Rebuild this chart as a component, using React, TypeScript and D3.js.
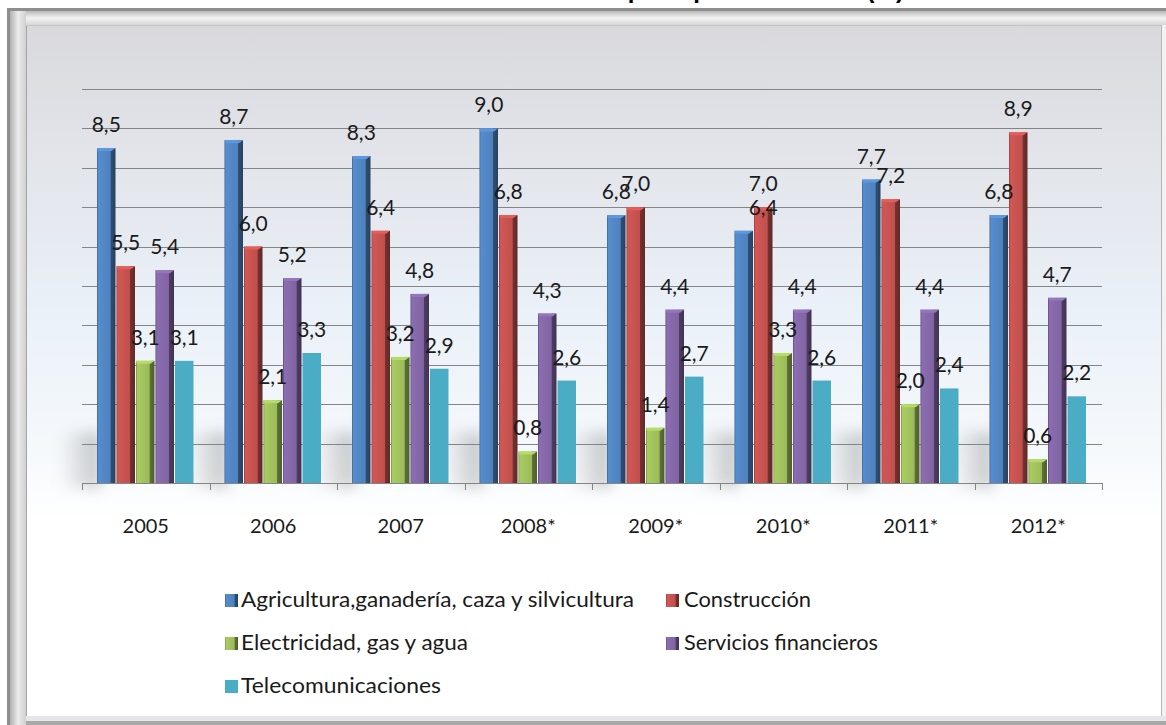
import React from "react";
import * as d3 from "d3";

const categories = ["2005", "2006", "2007", "2008*", "2009*", "2010*", "2011*", "2012*"];
const seriesNames = [
  "Agricultura,ganadería, caza y silvicultura",
  "Construcción",
  "Electricidad, gas y agua",
  "Servicios financieros",
  "Telecomunicaciones",
];
const agricultura = [8.5, 8.7, 8.3, 9.0, 6.8, 6.4, 7.7, 6.8];
const construccion = [5.5, 6.0, 6.4, 6.8, 7.0, 7.0, 7.2, 8.9];
const electricidad = [3.1, 2.1, 3.2, 0.8, 1.4, 3.3, 2.0, 0.6];
const servicios = [5.4, 5.2, 4.8, 4.3, 4.4, 4.4, 4.4, 4.7];
const telecom = [3.1, 3.3, 2.9, 2.6, 2.7, 2.6, 2.4, 2.2];
const yTickValues = [1, 2, 3, 4, 5, 6, 7, 8, 9, 10];
const titleText = "Tasa de crecimiento de los principales sectores (%)";

const seriesValues = [agricultura, construccion, electricidad, servicios, telecom];
const seriesColors = ["#4f81bd", "#c0504d", "#9bbb59", "#8064a2", "#4bacc6"];
const flatSeries = [false, false, false, false, true];

const W = 1166;
const H = 725;
const FONT = "Lato, 'Open Sans', sans-serif";

export default function App() {
  const x0 = d3.scaleBand<string>().domain(categories).range([82, 1102]).padding(0);
  const x1 = d3
    .scaleBand<string>()
    .domain(seriesNames)
    .range([0, x0.bandwidth()])
    .paddingInner(0)
    .paddingOuter(0.77);
  const y = d3.scaleLinear().domain([0, 10]).range([483, 89]);
  const fmt = (v: number) => d3.format(".1f")(v).replace(".", ",");
  const step = x1.step();
  const bw = step - 1;

  // label placement quirk seen in the reference (2010 agricultura label drawn over next bar)
  const labelShift = (s: number, i: number) => (s === 0 && i === 5 ? step : 0);

  const legendCols = [225, 666];
  const legendRows = [607, 650, 693];
  const legendTextLen = [393, 127, 227, 194, 200];

  return (
    <svg
      width={W}
      height={H}
      style={{ position: "absolute", left: 0, top: 0, background: "#fff" }}
      fontFamily={FONT}
    >
      <defs>
        <linearGradient id="panel" x1="0" y1="0" x2="0" y2="1">
          <stop offset="0" stopColor="#d9d9dd" />
          <stop offset="0.18" stopColor="#e2e4e9" />
          <stop offset="0.42" stopColor="#eaf1f8" />
          <stop offset="0.62" stopColor="#f6f9fc" />
          <stop offset="0.72" stopColor="#ffffff" />
          <stop offset="1" stopColor="#ffffff" />
        </linearGradient>
        <linearGradient id="bevelTop" x1="0" y1="0" x2="0" y2="1">
          <stop offset="0" stopColor="#b8b8b8" />
          <stop offset="0.5" stopColor="#f4f4f4" />
          <stop offset="1" stopColor="#d6d6d6" />
        </linearGradient>
        <linearGradient id="bevelLeft" x1="0" y1="0" x2="1" y2="0">
          <stop offset="0" stopColor="#b0b0b0" />
          <stop offset="0.5" stopColor="#ececec" />
          <stop offset="1" stopColor="#d0d0d0" />
        </linearGradient>
        <linearGradient id="floorShadow" x1="0" y1="0" x2="1" y2="0">
          <stop offset="0" stopColor="#000" stopOpacity="0" />
          <stop offset="1" stopColor="#000" stopOpacity="0.22" />
        </linearGradient>
        <filter id="blur" x="-50%" y="-50%" width="200%" height="200%">
          <feGaussianBlur stdDeviation="7" />
        </filter>
        {seriesColors.map((c, s) => {
          const base = d3.color(c)!;
          return (
            <linearGradient key={s} id={`bar${s}`} x1="0" y1="0" x2="1" y2="0">
              <stop offset="0" stopColor={base.darker(0.9).formatHex()} />
              <stop offset="0.07" stopColor={base.brighter(0.25).formatHex()} />
              <stop offset="0.45" stopColor={base.brighter(0.1).formatHex()} />
              <stop offset="0.72" stopColor={base.formatHex()} />
              <stop offset="0.75" stopColor={base.darker(1.4).formatHex()} />
              <stop offset="1" stopColor={base.darker(1.9).formatHex()} />
            </linearGradient>
          );
        })}
      </defs>

      {/* cut-off title */}
      <text
        x={610}
        y={-2}
        textAnchor="middle"
        fontSize={24}
        fontWeight="bold"
        fill="#000"
        fontFamily="'Liberation Sans', Arial, sans-serif"
      >
        {titleText}
      </text>

      {/* frame */}
      <rect x={7} y={8} width={1159} height={717} fill="#8e8e8e" />
      <rect x={10} y={11} width={1156} height={14} fill="url(#bevelTop)" />
      <rect x={10} y={11} width={16} height={714} fill="url(#bevelLeft)" />
      <rect x={1161} y={25} width={5} height={700} fill="#f2f2f2" />
      <rect x={26} y={716} width={1140} height={9} fill="#e4e6ea" />
      <rect x={26} y={721} width={1140} height={4} fill="#a8a8a8" />
      <rect x={26} y={25} width={1135} height={691} fill="url(#panel)" />
      <line x1={26.5} y1={25} x2={26.5} y2={716} stroke="#a5a5a5" />
      <line x1={1161.5} y1={25} x2={1161.5} y2={716} stroke="#b5b5b5" />
      <line x1={26} y1={25.5} x2={1161} y2={25.5} stroke="#c4c4c4" />

      {/* floor shadows */}
      {categories.map((c) => {
        const gx = (x0(c) as number) + (x1(seriesNames[0]) as number);
        return (
          <rect
            key={c}
            x={gx - 38}
            y={432}
            width={42}
            height={56}
            fill="url(#floorShadow)"
            filter="url(#blur)"
          />
        );
      })}

      {/* gridlines */}
      {yTickValues.map((t) => (
        <line
          key={t}
          x1={82}
          x2={1102}
          y1={Math.round(y(t)) + 0.5}
          y2={Math.round(y(t)) + 0.5}
          stroke="#858585"
          strokeWidth={1}
        />
      ))}

      {/* bars */}
      {categories.map((c, i) => (
        <g key={c}>
          {seriesNames.map((sn, s) => {
            const v = seriesValues[s][i];
            const bx = (x0(c) as number) + (x1(sn) as number);
            const by = y(v);
            const bh = y(0) - by;
            if (flatSeries[s]) {
              return <rect key={sn} x={bx} y={by} width={bw} height={bh} fill={seriesColors[s]} />;
            }
            const base = d3.color(seriesColors[s])!;
            return (
              <g key={sn}>
                <rect x={bx} y={by} width={bw} height={bh} fill={`url(#bar${s})`} />
                <polygon
                  points={`${bx},${by} ${bx + bw},${by} ${bx + bw - 4},${by + 3} ${bx + 1},${by + 3}`}
                  fill={base.brighter(0.45).formatHex()}
                />
              </g>
            );
          })}
        </g>
      ))}

      {/* axis baseline + ticks */}
      <line x1={82} x2={1102} y1={483.5} y2={483.5} stroke="#858585" />
      {categories.map((c) => (
        <line
          key={c}
          x1={Math.round(x0(c) as number) + 0.5}
          x2={Math.round(x0(c) as number) + 0.5}
          y1={483}
          y2={490}
          stroke="#858585"
        />
      ))}
      <line x1={1102.5} x2={1102.5} y1={483} y2={490} stroke="#858585" />

      {/* data labels */}
      {categories.map((c, i) =>
        seriesNames.map((sn, s) => {
          const v = seriesValues[s][i];
          const cx = (x0(c) as number) + (x1(sn) as number) + bw / 2 + labelShift(s, i);
          return (
            <text
              key={`${c}-${sn}`}
              x={cx}
              y={y(v) - 16}
              textAnchor="middle"
              fontSize={21}
              fill="#1a1a1a"
            >
              {fmt(v)}
            </text>
          );
        })
      )}

      {/* category labels */}
      {categories.map((c) => (
        <text
          key={c}
          x={(x0(c) as number) + x0.bandwidth() / 2}
          y={533}
          textAnchor="middle"
          fontSize={20}
          fill="#1a1a1a"
        >
          {c}
        </text>
      ))}

      {/* legend */}
      {seriesNames.map((sn, s) => {
        const col = s % 2;
        const row = Math.floor(s / 2);
        const mx = legendCols[col];
        const ty = legendRows[row];
        const tx = mx + (col === 0 ? 16 : 18);
        return (
          <g key={sn}>
            <rect
              x={mx}
              y={ty - 13}
              width={13}
              height={13}
              fill={flatSeries[s] ? seriesColors[s] : `url(#bar${s})`}
            />
            <text
              x={tx}
              y={ty}
              fontSize={21}
              fill="#1a1a1a"
              textLength={legendTextLen[s]}
              lengthAdjust="spacingAndGlyphs"
            >
              {sn}
            </text>
          </g>
        );
      })}
    </svg>
  );
}
